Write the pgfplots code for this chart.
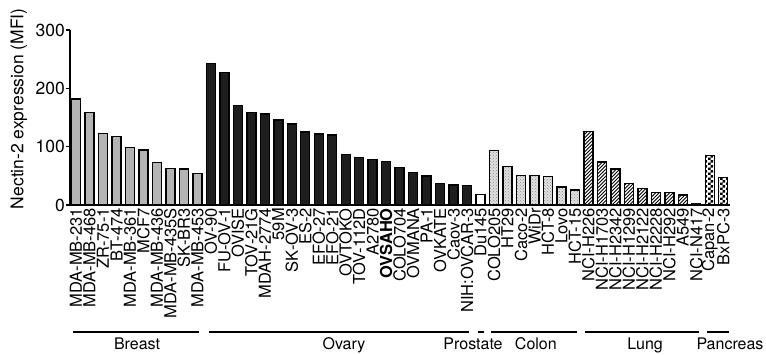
\documentclass[border=0pt]{standalone}
\usepackage{fontspec}
\setmainfont{TeX Gyre Heros}
\usepackage{pgfplots}
\pgfplotsset{compat=1.18}
\usetikzlibrary{patterns}
\definecolor{brgray}{RGB}{180,180,180}
\definecolor{ovblack}{RGB}{30,30,30}
\pgfdeclarepatternformonly{finechecker}{\pgfqpoint{0pt}{0pt}}{\pgfqpoint{5.4pt}{5.4pt}}{\pgfqpoint{5.4pt}{5.4pt}}{%
  \pgfpathrectangle{\pgfqpoint{0pt}{0pt}}{\pgfqpoint{2.7pt}{2.7pt}}%
  \pgfpathrectangle{\pgfqpoint{2.7pt}{2.7pt}}{\pgfqpoint{2.7pt}{2.7pt}}%
  \pgfusepath{fill}}
\pgfdeclarepatternformonly{finehatch}{\pgfqpoint{-1pt}{-1pt}}{\pgfqpoint{4pt}{4pt}}{\pgfqpoint{3.5pt}{3.5pt}}{%
  \pgfsetlinewidth{0.8pt}%
  \pgfpathmoveto{\pgfqpoint{0pt}{0pt}}\pgfpathlineto{\pgfqpoint{3.6pt}{3.6pt}}\pgfusepath{stroke}}
\begin{document}
\begin{tikzpicture}[x=1pt,y=1pt]
\begin{axis}[
  at={(0,0)}, anchor=south west, scale only axis,
  width=660pt, height=175pt,
  xmin=-0.45, xmax=48.5, ymin=0, ymax=300,
  axis x line*=bottom, axis y line*=left,
  axis line style={line width=1.4pt},
  ytick={0,100,200,300},
  tick align=outside, major tick length=4pt,
  y tick style={line width=1.4pt, black},
  xtick={0,...,48},
  x tick style={draw=none},
  xticklabels={MDA-MB-231,MDA-MB-468,ZR-75-1,BT-474,MDA-MB-361,MCF7,MDA-MB-436,MDA-MB-435S,SK-BR3,MDA-MB-453,
    OV-90,FU-OV-1,OVISE,TOV-21G,MDAH-2774,59M,SK-OV-3,ES-2,EFO-27,EFO-21,OVTOKO,TOV-112D,A2780,\textbf{OVSAHO},COLO704,OVMANA,PA-1,OVKATE,Caov-3,NIH:OVCAR-3,
    Du145,
    COLO205,HT29,Caco-2,WiDr,HCT-8,Lovo,HCT-15,
    NCI-H226,NCI-H1703,NCI-H2342,NCI-H1299,NCI-H2122,NCI-H2228,NCI-H292,A549,NCI-N417,
    Capan-2,BxPC-3},
  xticklabel shift={-2pt},
  x tick label style={rotate=90, anchor=east, font=\fontsize{16.5}{17}\selectfont, inner sep=1pt},
  y tick label style={font=\fontsize{17.5}{18}\selectfont, inner sep=1pt},
  /pgf/number format/assume math mode=true,
  ylabel={Nectin-2 expression (MFI)},
  ylabel style={at={(axis description cs:-0.0773,0.55)}, anchor=center, font=\fontsize{17.5}{18}\selectfont},
  clip=false,
  ybar, bar width=9pt,
  every axis plot/.append style={draw=black, line width=1.4pt, bar shift=0pt},
]
% Breast
\addplot[fill=brgray] coordinates {(0,182) (1,159) (2,123) (3,117) (4,99) (5,94) (6,73) (7,63) (8,62) (9,54)};
% Ovary
\addplot[fill=ovblack] coordinates {(10,243) (11,227) (12,171) (13,159) (14,156) (15,146) (16,139) (17,125) (18,122) (19,120) (20,87) (21,81) (22,78) (23,75) (24,64) (25,56) (26,50) (27,37) (28,34) (29,33)};
% Prostate
\addplot[fill=white] coordinates {(30,18)};
% Colon
\addplot[fill=black!12, postaction={pattern=crosshatch dots, pattern color=black!45}] coordinates {(31,93) (32,66) (33,51) (34,51) (35,49) (36,31) (37,26)};
% Lung
\addplot[fill=white, postaction={pattern=finehatch, pattern color=black}] coordinates {(38,126) (39,74) (40,62) (41,37) (42,28) (43,21) (44,21) (45,17) (46,3)};
% Pancreas
\addplot[fill=white, postaction={pattern=finechecker, pattern color=black}] coordinates {(47,85) (48,47)};

\draw[line width=1.5pt] (axis cs:-0.23,-218) -- (axis cs:9.12,-218);
\draw[line width=1.5pt] (axis cs:9.86,-218) -- (axis cs:29.15,-218);
\draw[line width=1.5pt] (axis cs:29.8,-218) -- (axis cs:30.27,-218);
\draw[line width=1.5pt] (axis cs:30.8,-218) -- (axis cs:37.16,-218);
\draw[line width=1.5pt] (axis cs:37.75,-218) -- (axis cs:46.2,-218);
\draw[line width=1.5pt] (axis cs:46.8,-218) -- (axis cs:48.4,-218);
\begin{scope}[every node/.style={font=\fontsize{16}{17}\selectfont, anchor=base}]
\node at (axis cs:4.52,-248) {Breast};
\node at (axis cs:19.87,-248) {Ovary};
\node at (axis cs:29.44,-248) {Prostate};
\node at (axis cs:34.1,-248) {Colon};
\node at (axis cs:42.2,-248) {Lung};
\node at (axis cs:48.5,-248) {Pancreas};
\end{scope}
\end{axis}
\pgfresetboundingbox
\path (-70,-150) rectangle (696,205);
\end{tikzpicture}
\end{document}
